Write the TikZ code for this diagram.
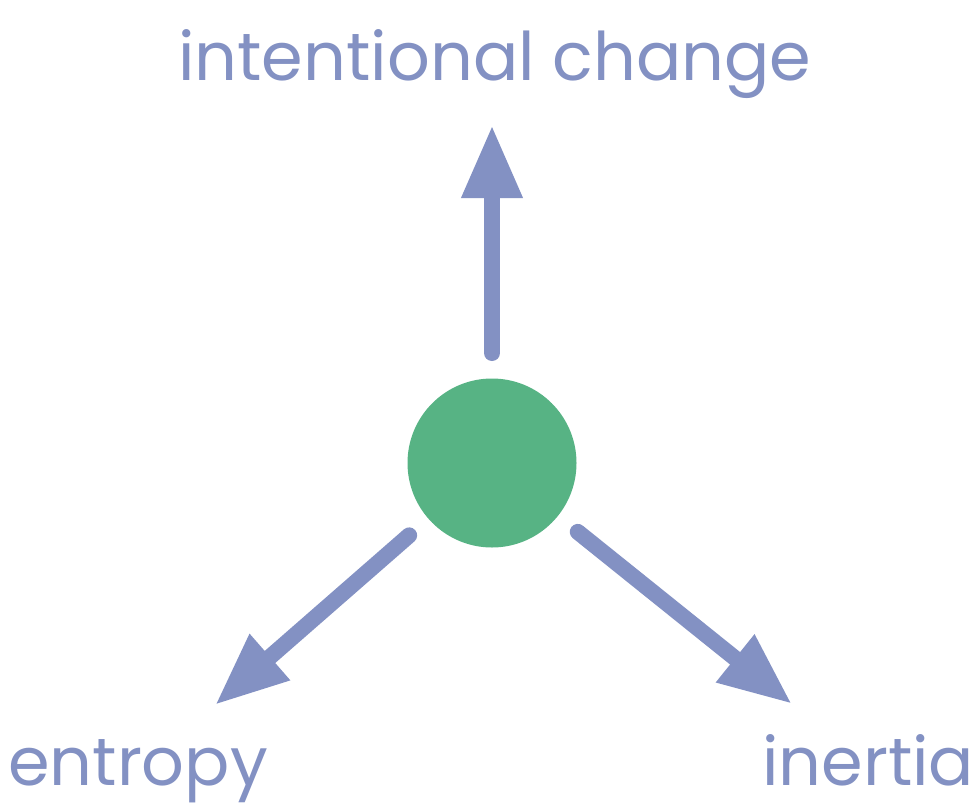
\documentclass[tikz,border=0pt]{standalone}
\usepackage{fontspec}
\setmainfont{Poppins}
\usetikzlibrary{arrows.meta}
\definecolor{arrowblue}{HTML}{8391C3}
\definecolor{dotgreen}{HTML}{57B384}
\tikzset{
  flow/.style={draw=arrowblue, line width=16pt, line cap=round, shorten <=110pt,
    -{Triangle[length=73pt,width=57pt]}},
  lbl/.style={text=arrowblue, font=\fontsize{67}{72}\selectfont, inner sep=0pt, anchor=base west}
}
\begin{document}
\begin{tikzpicture}[x=1pt,y=-1pt]
\useasboundingbox (0,0) rectangle (979,808);
\node[circle, fill=dotgreen, minimum size=169pt, inner sep=0pt] (c) at (492,463) {};
\coordinate (up) at (492,125);
\coordinate (dl) at (215,705);
\coordinate (dr) at (792,704);
\draw[flow] (c.center) -- (up);
\draw[flow] (c.center) -- (dl);
\draw[flow] (c.center) -- (dr);
\node[lbl] (t1) at (178,80) {intentional change};
\node[lbl] (t2) at (8,785) {entropy};
\node[lbl] (t3) at (762,785) {inertia};
\end{tikzpicture}
\end{document}
